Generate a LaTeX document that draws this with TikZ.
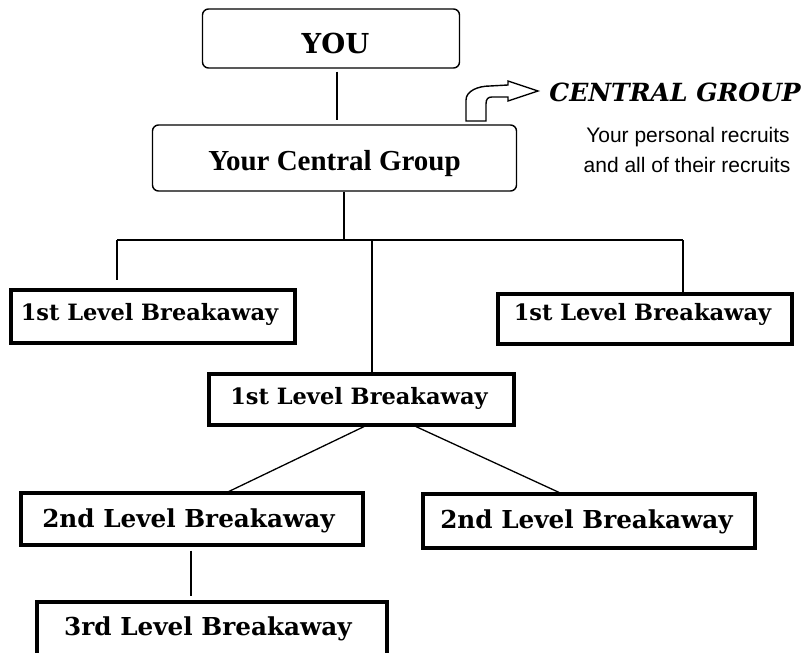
\documentclass[tikz,border=0pt]{standalone}
\usepackage{fontspec}
\setmainfont{Liberation Serif}
\newfontfamily\dvs{DejaVu Serif}
\newfontfamily\lsans{Liberation Sans}
\begin{document}
\begin{tikzpicture}[x=1pt,y=-1pt,
  bbox/.style={draw, line width=3.2pt, rectangle, inner sep=0pt, anchor=base, font=\dvs\bfseries\fontsize{22.5}{26}\selectfont},
  bboxb/.style={bbox, font=\dvs\bfseries\fontsize{24.7}{28}\selectfont},
  rbox/.style={draw, line width=1.4pt, rounded corners=6pt, inner sep=0pt, anchor=base},
  conn/.style={line width=1.3pt},
  note/.style={inner sep=0pt, anchor=center},
]
\useasboundingbox (0,0) rectangle (804,653);
% boxes (positioned by their text baseline)
\node[rbox, minimum width=257pt, text height=44pt, text depth=15pt, font=\dvs\bfseries\fontsize{27.5}{30}\selectfont] (you) at (331,53) {\hspace*{9pt}YOU};
\node[rbox, minimum width=364pt, text height=45pt, text depth=21pt, font=\bfseries\fontsize{29}{34}\selectfont] (central) at (334.5,170) {Your Central Group};
\node[bbox, minimum width=284pt, text height=30pt, text depth=23pt] (l1a) at (153,320) {1st Level Breakaway\hspace*{7pt}};
\node[bbox, minimum width=294pt, text height=26pt, text depth=24pt] (l1c) at (645,320) {1st Level Breakaway\hspace*{5pt}};
\node[bbox, minimum width=305pt, text height=30pt, text depth=21pt] (l1b) at (361.5,404) {1st Level Breakaway\hspace*{5pt}};
\node[bboxb, minimum width=342pt, text height=34pt, text depth=18pt] (l2a) at (192,527) {2nd Level Breakaway\hspace*{7pt}};
\node[bboxb, minimum width=332pt, text height=34pt, text depth=20pt] (l2b) at (589,528) {2nd Level Breakaway\hspace*{5pt}};
\node[bboxb, minimum width=350pt, text height=33pt, text depth=27pt] (l3) at (212,635) {3rd Level Breakaway\hspace*{8pt}};
% arrow
\draw[line width=1.4pt, line join=miter] (466,121) -- (466,100) .. controls (466,91) and (478,86) .. (490,86) -- (508,85) -- (508,81) -- (538,91) -- (508,101) -- (508,97) -- (492,97) .. controls (488,97) and (486,99) .. (486,104) -- (486,121) -- cycle;
% right-hand text
\node[note, font=\dvs\bfseries\itshape\fontsize{25}{28}\selectfont, anchor=east] (cg) at (801,92) {CENTRAL GROUP};
\node[note, font=\lsans\fontsize{21}{28}\selectfont] (t1) at (688,137) {Your personal recruits};
\node[note, font=\lsans\fontsize{21}{28}\selectfont] (t2) at (687,165) {and all of their recruits};
% helper coordinates
\coordinate (xa) at (337,0);
\coordinate (xb) at (344,0);
\coordinate (busL) at (117,240);
\coordinate (busR) at (683,240);
\coordinate (busM) at (372,240);
\coordinate (busC) at (344,240);
\coordinate (d1) at (364,0);
\coordinate (d2) at (229,0);
\coordinate (d3) at (416,0);
\coordinate (d4) at (559,0);
\coordinate (xv) at (191,0);
% connectors
\draw[conn, shorten <=3pt, shorten >=4pt] (you.south -| xa) -- (central.north -| xa);
\draw[conn] (central.south -| xb) -- (busC);
\draw[conn] (busL) -- (busR);
\draw[conn, shorten >=8pt] (busL) -- (l1a.north -| busL);
\draw[conn] (busR) -- (l1c.north -| busR);
\draw[conn] (busM) -- (l1b.north -| busM);
\draw[conn, shorten >=-3pt] (l1b.south -| d1) -- (l2a.north -| d2);
\draw[conn] (l1b.south -| d3) -- (l2b.north -| d4);
\draw[conn, shorten <=4pt, shorten >=4pt] (l2a.south -| xv) -- (l3.north -| xv);
\end{tikzpicture}
\end{document}
